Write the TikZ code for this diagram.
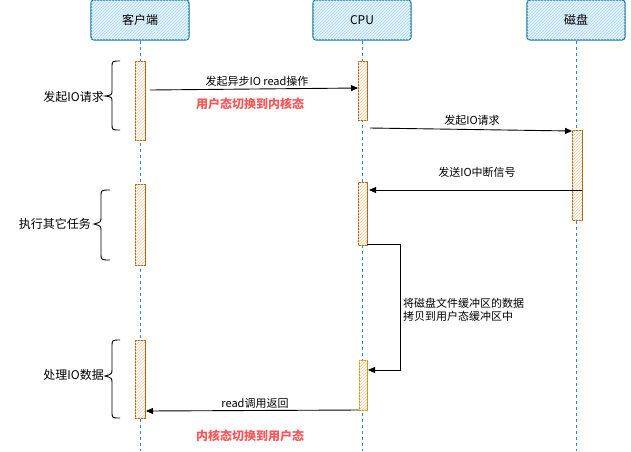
\documentclass[tikz,border=0pt]{standalone}
\usepackage{fontspec}
\setmainfont{Noto Sans CJK SC}
\usetikzlibrary{arrows.meta,patterns}
\definecolor{hdrline}{HTML}{10739E}
\definecolor{hdrfill}{HTML}{E6F3FA}
\definecolor{hdrhatch}{HTML}{A9D6EE}
\definecolor{actline}{HTML}{B46504}
\definecolor{actline2}{HTML}{D79B00}
\definecolor{acthatch}{HTML}{F6C9A0}
\definecolor{lifeline}{HTML}{2A8CC2}
\definecolor{redtxt}{HTML}{FF5555}
\tikzset{
  hdr/.style={draw=hdrline, line width=1.1pt, rounded corners=3pt, fill=hdrfill,
    postaction={pattern=north east lines, pattern color=hdrhatch},
    minimum width=98pt, minimum height=40pt, inner sep=0pt,
    font=\fontsize{12}{14}\selectfont},
  act/.style={draw=actline, line width=1pt, fill=white,
    postaction={pattern=north east lines, pattern color=acthatch},
    minimum width=10pt, inner sep=0pt},
  life/.style={draw=lifeline, line width=1pt, dash pattern=on 3pt off 3pt},
  msg/.style={draw=black, line width=0.9pt, -{Triangle[length=7pt,width=6pt]}},
  lbl/.style={font=\fontsize{11}{13}\selectfont, inner sep=1pt},
  redlbl/.style={font=\fontsize{12}{14}\selectfont\bfseries, text=redtxt, inner sep=1pt},
  sidelbl/.style={font=\fontsize{12}{14}\selectfont, inner sep=1pt},
  bracepath/.style={draw=black, line width=0.9pt},
}
\begin{document}
\begin{tikzpicture}[x=1pt,y=-1pt]
\useasboundingbox (0,0) rectangle (631,451);
% headers
\node[hdr] (h1) at (140,20) {客户端};
\node[hdr] (h2) at (362,20) {CPU};
\node[hdr] (h3) at (576,20) {磁盘};
% lifelines
\coordinate (e1) at (140,451);
\coordinate (e2) at (362,451);
\coordinate (e3) at (576,451);
\draw[life] (h1.south) -- (e1);
\draw[life] (h2.south) -- (e2);
\draw[life] (h3.south) -- (e3);
% activations
\node[act, minimum height=79pt] (c1) at (140,100.5) {};
\node[act, minimum height=81pt] (c2) at (140,224.5) {};
\node[act, minimum height=78pt] (c3) at (140,379) {};
\node[act, minimum height=59pt, minimum width=9pt] (p1) at (362.5,90.5) {};
\node[act, minimum height=63pt, minimum width=9pt] (p2) at (362.5,213.5) {};
\node[act, draw=actline2, minimum height=50pt, minimum width=8pt] (p3) at (363,385) {};
\node[act, minimum height=90pt] (d1) at (577,175) {};
% messages
\coordinate (m1s) at (150,90);
\coordinate (m1e) at (358,88);
\draw[msg] (m1s) -- (m1e);
\node[lbl, fill=white] (l1) at (257,81) {发起异步IO read操作};
\node[redlbl] (r1) at (250,104) {用户态切换到内核态};
\coordinate (m2s) at (370,128);
\coordinate (m2e) at (572,131);
\draw[msg] (m2s) -- (m2e);
\node[lbl] (l2) at (472,120) {发起IO请求};
\coordinate (m3s) at (582,190);
\coordinate (m3e) at (369,190);
\draw[msg] (m3s) -- (m3e);
\node[lbl] (l3) at (477,172) {发送IO中断信号};
\coordinate (m4s) at (367,244);
\coordinate (m4a) at (400,244);
\coordinate (m4b) at (400,370);
\coordinate (m4e) at (368,370);
\draw[msg] (m4s) -- (m4a) -- (m4b) -- (m4e);
\node[lbl, anchor=west, align=left] (l4) at (402,310) {将磁盘文件缓冲区的数据\\拷贝到用户态缓冲区中};
\coordinate (m5s) at (359,410);
\coordinate (m5e) at (146,411);
\draw[msg] (m5s) -- (m5e);
\node[lbl, fill=white] (l5) at (255,403) {read调用返回};
\node[redlbl] (r2) at (250,436) {内核态切换到用户态};
% braces
\draw[bracepath] (120,61) .. controls (112,61) .. (112,68) -- (112,90) .. controls (112,95) .. (105,96) .. controls (112,97) .. (112,102) -- (112,124) .. controls (112,130) .. (120,130);
\node[sidelbl, anchor=east] (s1) at (105,97) {发起IO请求};
\draw[bracepath] (110,190) .. controls (101,190) .. (101,197) -- (101,217) .. controls (101,222) .. (94,224) .. controls (101,226) .. (101,231) -- (101,253) .. controls (101,260) .. (110,260);
\node[sidelbl, anchor=east] (s2) at (92,224) {执行其它任务};
\draw[bracepath] (120,340) .. controls (112,340) .. (112,347) -- (112,369) .. controls (112,374) .. (105,376) .. controls (112,378) .. (112,383) -- (112,411) .. controls (112,418) .. (120,418);
\node[sidelbl, anchor=east] (s3) at (105,375) {处理IO数据};
\end{tikzpicture}
\end{document}
